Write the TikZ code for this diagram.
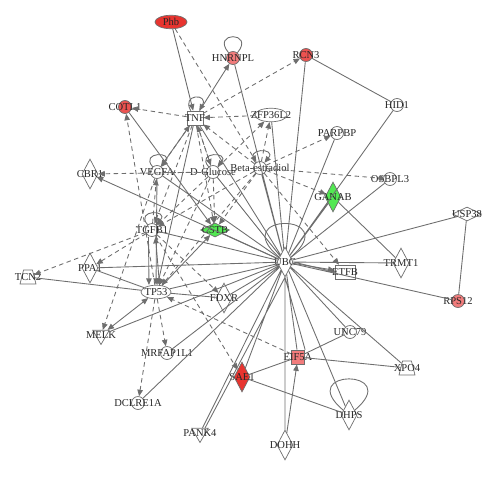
\documentclass[tikz,border=0pt]{standalone}
\usepackage{fontspec}
\setmainfont{Liberation Serif}
\usetikzlibrary{shapes.geometric,arrows.meta}

\definecolor{lnk}{HTML}{6E6E6E}
\definecolor{upred}{HTML}{E8342F}
\definecolor{midred}{HTML}{EC5250}
\definecolor{lightred}{HTML}{F27C7C}
\definecolor{dngreen}{HTML}{52E852}

\begin{document}
\begin{tikzpicture}[x=0.2mm, y=-0.2mm, >={Triangle[length=1.3mm, width=1.1mm]},
%%  every label/.style = {font=\small},
  every label/.style = {font=\fontsize{6}{7}\selectfont, text=black!85, inner sep=0pt},
  mol/.style = {draw=lnk, fill=white, inner sep=0pt, line width=0.4pt, label={center:#1}},
  gene/.style = {mol=#1, circle, minimum size=2.6mm},
  tf/.style = {mol=#1, ellipse, minimum width=6.4mm, minimum height=2.7mm},
  enz/.style = {mol=#1, diamond, minimum width=3.2mm, minimum height=6mm},
  pep/.style = {mol=#1, diamond, minimum width=5.8mm, minimum height=2.8mm},
  box/.style = {mol=#1, rectangle, minimum width=3.2mm, minimum height=2.8mm},
  trans/.style = {mol=#1, trapezium, trapezium stretches=true, trapezium left angle=68,
    trapezium right angle=68, inner sep=0.5pt, minimum width=3.2mm, minimum height=2.8mm},
  kin/.style = {mol=#1, regular polygon, regular polygon sides=3, shape border rotate=180,
    minimum size=3.8mm},
  rel/.style = {draw=lnk, line width=0.5pt},
  ind/.style = {rel, dash pattern=on 0.9mm off 0.7mm},
  selfloop/.style = {rel, loop, out=130, in=50, min distance=#1, max distance=#1}]

  \useasboundingbox (0,0) rectangle (500,478);

  % molecules
  \node[tf=Phb, fill=upred] (phb) at (171,22) {};
  \node[gene=HNRNPL, fill=lightred] (hnrnpl) at (233,58) {};
  \node[gene=RCN3, fill=midred] (rcn3) at (306,55) {};
  \node[gene=COTL1, fill=midred] (cotl1) at (125,107) {};
  \node[box=TNF] (tnf) at (195,118) {};
  \node[tf=ZFP36L2] (zfp) at (271,115) {};
  \node[gene=HID1] (hid1) at (397,105) {};
  \node[gene=PARPBP] (parpbp) at (337,133) {};
  \node[enz=CBR1] (cbr1) at (90,174) {};
  \node[gene=VEGFA] (vegfa) at (157,172) {};
  \node[gene=D-Glucose] (dglc) at (213,172) {};
  \node[gene=Beta-estradiol] (estr) at (260,168) {};
  \node[gene=OSBPL3] (osbpl3) at (390,179) {};
  \node[enz=GANAB, fill=dngreen] (ganab) at (333,197) {};
  \node[pep=USP38] (usp38) at (467,214) {};
  \node[gene=TGFB1] (tgfb1) at (152,230) {};
  \node[pep=CSTB, fill=dngreen] (cstb) at (215,230) {};
  \node[enz=UBC] (ubc) at (285,262) {};
  \node[enz=TRMT1] (trmt1) at (401,263) {};
  \node[enz=PPA1] (ppa1) at (90,268) {};
  \node[trans=TCN2] (tcn2) at (28,277) {};
  \node[box=ETFB, minimum width=4mm] (etfb) at (345,272) {};
  \node[tf=TP53, minimum width=6mm] (tp53) at (156,292) {};
  \node[enz=FDXR] (fdxr) at (224,298) {};
  \node[gene=RPS12, fill=lightred] (rps12) at (458,301) {};
  \node[kin=MELK] (melk) at (101,335) {};
  \node[gene=UNC79] (unc79) at (350,332) {};
  \node[gene=MRFAP1L1] (mrfap) at (167,353) {};
  \node[box=EIF5A, fill=lightred, minimum width=2.7mm] (eif5a) at (298,357) {};
  \node[trans=XPO4] (xpo4) at (407,368) {};
  \node[enz=SAE1, fill=upred] (sae1) at (242,377) {};
  \node[gene=DCLRE1A] (dclre) at (138,403) {};
  \node[enz=DHPS] (dhps) at (349,415) {};
  \node[kin=PANK4] (pank4) at (200,433) {};
  \node[enz=DOHH] (dohh) at (285,445) {};

  % self loops
  \path (ubc) edge[selfloop=14mm, out=140, in=40] (ubc);
  \path (dhps) edge[selfloop=13mm, out=140, in=40] (dhps);
  \path (hnrnpl) edge[selfloop=5.6mm] (hnrnpl);
  \path[->] (tnf) edge[selfloop=4mm, out=120, in=60] (tnf)
    (vegfa) edge[selfloop=4mm] (vegfa) (dglc) edge[selfloop=4mm] (dglc)
    (estr) edge[selfloop=4mm] (estr) (tgfb1) edge[selfloop=4mm] (tgfb1);

  % UBC hub
  \draw[rel] (ubc) -- (hnrnpl) (ubc) -- (rcn3) (ubc) -- (hid1) (ubc) -- (parpbp)
    (ubc) -- (osbpl3) (ubc) -- (ganab) (ubc) -- (usp38) (ubc) -- (trmt1)
    (ubc) -- (rps12) (ubc) -- (xpo4) (ubc) -- (unc79) (ubc) -- (eif5a)
    (ubc.south) -- (eif5a.north east) (ubc) -- (dhps) (ubc) -- (dohh) (ubc) -- (sae1)
    (ubc) -- (pank4) (ubc.south) -- (pank4.north east) (ubc) -- (mrfap) (ubc) -- (dclre)
    (ubc) -- (fdxr) (ubc) -- (melk) (ubc) -- (tp53) (ubc) -- (ppa1) (ubc) -- (tgfb1)
    (ubc) -- (cstb) (ubc) -- (vegfa) (ubc) -- (dglc) (ubc) -- (estr) (ubc) -- (tnf)
    (ubc) -- (zfp) (ubc.east) -- (etfb.west);
  \draw[rel, ->] (ubc) -- (etfb);
  \draw[rel, ->] (ubc) -- (cbr1);

  % other solid links
  \draw[rel] (rcn3) -- (hid1) (ganab) -- (trmt1) (usp38) -- (rps12) (unc79) -- (eif5a)
    (eif5a) -- (xpo4) (sae1) -- (eif5a) (sae1) -- (dhps) (tp53) -- (tcn2)
    (tp53) -- (ppa1) (tp53) -- (fdxr);
  \draw[rel, ->] (phb) -- (tnf);
  \draw[rel, ->] (tnf) -- (hnrnpl);
  \draw[rel, ->] (dohh) -- (eif5a);
  \draw[rel, ->] (cotl1) -- (cstb);
  \draw[rel, ->] (tp53) -- (cstb);
  \draw[rel, <->] (tp53) -- (melk);
  \draw[rel, ->] (vegfa) -- (tnf);
  \draw[rel, ->] (tnf) -- (tp53);
  \draw[rel, ->] (vegfa) -- (tp53);
  \draw[rel, ->] ([xshift=-2]tgfb1.south) -- ([xshift=-4]tp53.north);
  \draw[rel, ->] ([xshift=2]tp53.north) -- ([xshift=2]tgfb1.south);

  % dashed links
  \draw[ind, ->] (phb) -- (estr);
  \draw[ind, ->] (tnf) -- (cotl1);
  \draw[ind, ->] (tp53) -- (cotl1);
  \draw[ind, ->] (tnf) -- (rcn3);
  \draw[ind, ->] (zfp) -- (tnf);
  \draw[ind, ->] (dglc) -- (tnf);
  \draw[ind, ->] (estr) -- (tnf);
  \draw[ind, ->] (tnf) -- (vegfa);
  \draw[ind, ->] (tnf) -- (dglc);
  \draw[ind, ->] (tnf) -- (tgfb1);
  \draw[ind, ->] (tnf) -- (cstb);
  \draw[ind, ->] (estr) -- (zfp);
  \draw[ind, ->] (dglc) -- (zfp);
  \draw[ind, ->] (dglc) -- (cbr1);
  \draw[ind] (vegfa) -- (dglc);
  \draw[ind, ->] (estr) -- (parpbp);
  \draw[ind, -{Circle[length=1mm]}] (estr) -- (osbpl3);
  \draw[ind, ->] (estr) -- (ganab);
  \draw[ind, ->] (estr) -- (etfb);
  \draw[ind, ->] (dglc) -- (cstb);
  \draw[ind, ->] (estr) -- (cstb);
  \draw[ind, ->] (dglc) -- (tgfb1);
  \draw[ind, ->] (estr) -- (tgfb1);
  \draw[ind, ->] (dglc) -- (tp53);
  \draw[ind, ->] (estr) -- (tp53);
  \draw[ind, ->] (tgfb1) -- (vegfa);
  \draw[ind, ->] (tgfb1) -- (ppa1);
  \draw[ind, ->] (tgfb1) -- (tcn2);
  \draw[ind, ->] (vegfa) -- (melk);
  \draw[ind, ->] (tp53) -- (mrfap);
  \draw[ind, ->] (tp53) -- (dclre);
  \draw[ind, ->] (tgfb1) -- (sae1);
  \draw[ind, ->] (tgfb1) -- (fdxr);
  \draw[ind, ->] (eif5a) -- (tp53);
\end{tikzpicture}
\end{document}
